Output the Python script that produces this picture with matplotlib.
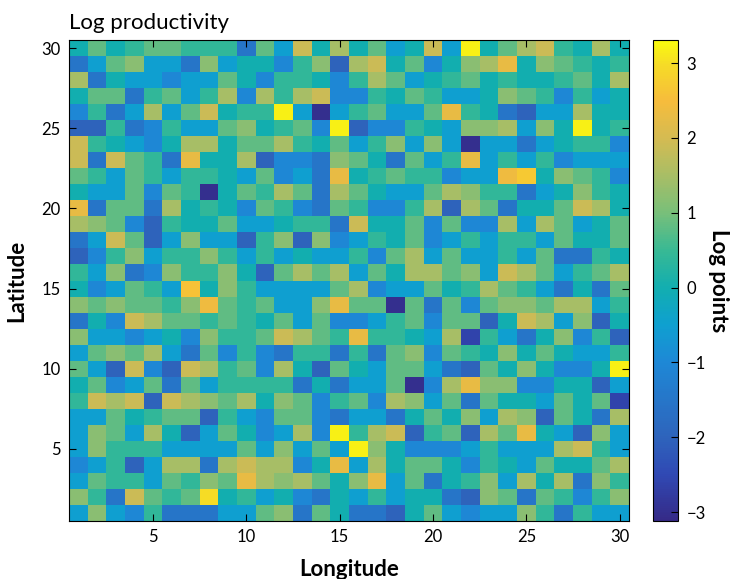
import numpy as np
import matplotlib
matplotlib.use("Agg")
import matplotlib.pyplot as plt
from matplotlib.colors import LinearSegmentedColormap

plt.rcParams['font.family'] = ['Lato', 'DejaVu Sans']

# grid coordinates
longitude = np.arange(1, 31)
latitude = np.arange(1, 31)

# log productivity per cell, rows from latitude 30 (top) down to latitude 1
logprod = [
    [0, .8, 0, .4, .8, .8, .4, .4, .4, -1.5, .8, -.5, 1.9, 0, 1.5, 0, .8, -.5, 0, 1.9, -.5, 3.2, 0, .8, 1.5, 1.9, .4, 0, 1.5, 0],
    [-1.5, -.5, .8, 1.2, -.5, -.5, -1.5, 1.2, -.5, 0, 0, -1, .4, 1.2, -2, 1.5, 1.9, 0, .8, -1, 0, 1.2, 1.5, 2.3, 0, 1.2, .8, .4, 0, .4],
    [1.5, -1.5, 0, -.5, -.5, -1, -.5, -.5, .8, 0, -1, .4, .4, 0, -1, .4, 1.5, .8, -.5, 0, .4, .8, 0, .4, 0, 0, .4, .8, 0, 1.5],
    [0, .8, .8, -1.5, .4, .8, -.5, .4, 1.5, -1, 1.5, .4, 1.5, 1.9, -1, -1, .4, 0, .8, .4, -.5, -.5, 0, 1.2, .8, .4, -1, .4, -.5, 0],
    [-1, .4, -1.5, -.5, 1.5, -.5, .8, 1.9, 0, .4, .4, 3.2, -.5, -3, -.5, .4, .8, -.5, -.5, .8, 2.3, .4, 0, -1.5, -2, -.5, -.5, 1.5, 0, 0],
    [-2, -2, .4, -1.5, -1, .4, -.5, -.5, .8, 1.2, 0, .4, .8, -1, 3.2, -2, -1, -1, .4, 0, -.5, 1.2, 1.2, 1.5, -.5, 1.2, 0, 3.2, 0, .4],
    [1.9, .4, 0, -.5, -1, 0, 1.5, 1.5, 0, .8, .8, 1.5, .4, 0, .8, -.5, .4, 1.2, -.5, 1.2, -.5, -3, -.5, -.5, -1.5, -.5, 0, .4, .4, -1],
    [1.9, -1.5, 1.9, .8, .4, -1.5, 2.3, 0, 0, 1.5, -2, -1, -1, -1.5, 1.2, .8, 0, -1.5, .8, -.5, .4, 2.3, -.5, .4, -.5, .4, -1, -.5, -.5, -.5],
    [.8, .4, -.5, .8, .4, -.5, .4, .4, 0, -.5, .8, -1, -.5, -1.5, 2.3, 0, .4, .8, .4, .4, -1, -.5, -.5, 2.4, 2.7, 0, 1.2, .8, .4, -1],
    [0, -.5, -.5, .8, -1, .8, .4, -3, 0, .8, .4, 1.5, .8, -1.5, 1.5, .8, 0, -.5, -.5, .8, 1.5, 1.2, .4, .4, -1.5, -.5, 0, 1.2, .4, 0],
    [2.3, -1.5, .8, .8, -1.5, 1.5, 0, .4, 0, -1, .8, .4, -1, -1.5, .8, .4, -1, -1, .4, 1.5, -2, 1.5, .8, -1.5, 0, 0, .8, 1.9, 1.5, 0],
    [1.5, 1.2, .8, -1, -2, .4, 0, 0, .8, -.5, -.5, 0, .4, .4, -1.5, 1.9, 0, 0, .8, -1, .8, -1, -1, 1.5, -.5, 1.5, .8, -.5, 0, .8],
    [-1.5, -.5, 1.9, .8, -2, -.5, 1.2, -.5, -.5, -2, .4, 1.2, -2, 1.2, -1, -.5, .4, 0, .8, -1, -.5, .4, -.5, .4, .4, -.5, .8, 0, 0, .8],
    [-2, -1, .4, 1.2, -.5, .4, .4, 1.2, .4, -.5, .4, -.5, 0, -.5, -.5, .4, -1, .8, 1.5, -.5, .8, -.5, -.5, .4, -.5, .8, -1.5, -1.5, .4, 0],
    [.4, -.5, 1.2, -1.5, -1, 1.2, .4, .4, 1.2, 0, -2, .8, 1.5, .8, 1.5, -.5, .8, 0, 1.5, 1.5, .8, 1.2, -.5, 1.9, 1.5, .8, -.5, .4, .8, 1.5],
    [0, -1, -.5, .8, .4, -.5, 2.6, 0, 1.2, .4, -.5, -.5, -.5, -.5, .8, 1.5, -1, -.5, -.5, .8, 0, .4, 1.5, .8, .4, -.5, -1.5, 0, -1.5, .8],
    [1.2, .8, 1.2, .8, .8, .4, 1.2, 2.4, .8, .4, .8, -.5, -.5, 1.2, 2.3, .8, .8, -3, .8, -1.5, .8, -1, .8, 1.2, 1.2, .8, 1.5, 1.5, -.5, .4],
    [-1.5, 0, -1, 1.9, 1.5, .8, .8, .4, .8, .4, 0, .8, -.5, .8, -1, -1, -.5, .4, .8, -1, .8, .8, -2, 0, 1.9, 1.5, -.5, 1.2, -2, 0],
    [1.2, -.5, -.5, -1, -.5, 0, -1, 1.2, .4, .4, .8, 1.9, 1.5, .8, .4, 2.3, .4, .4, 0, -.5, 1.5, -2.6, .4, -.5, -1.5, 0, 1.2, -1, .4, -2],
    [-.5, .8, 1.2, .8, 1.5, -.5, -1.5, .8, -1, .4, -1, -1.5, .4, .4, -1.5, .4, -1.5, .8, 1.2, -1, .8, .4, 0, 1.2, 0, .8, 0, -.5, -.5, .4],
    [.8, -.5, -2, 1.9, -1, -2, 1.9, 1.5, .4, .8, -1, 1.5, 0, -2, .8, 0, -.5, .8, .8, -.5, -1.5, -2, .8, 0, 1.2, 0, -1, -1, 0, 3.2],
    [0, .8, -1, -.5, .8, -1.5, .8, -.5, .4, .4, .4, .4, -1.5, 0, -1.5, -.5, -.5, .8, -3, -1, 1.5, 2.3, 1.2, 1.2, -1, -1, 0, 0, -2, -.5],
    [.4, 1.9, 1.5, 1.9, -2, 1.9, 1.5, 1.2, .8, 1.5, 0, 1.2, .8, -1, .4, .8, -1, 1.5, 1.2, -.5, .8, -1.5, .8, 0, 0, -.5, .8, 0, .8, -2.6],
    [-.5, -.5, .8, 0, .4, .8, .8, -2, .4, -.5, -1, .8, .8, -1, -1.5, -.5, -.5, -1.5, 0, .8, 0, 1.2, -.5, 1.5, 1.2, -2, .8, 0, -1.5, 1.5],
    [-.5, 1.2, .8, -.5, 1.5, 0, -2, -.5, .8, 0, -1, -.5, 1.5, -1, 3.2, .4, 1.5, 1.9, -2, .4, .8, -2, 1.5, .8, 2.3, 0, -.5, -2, 1.2, -.5],
    [-.5, 1.2, .4, .4, .4, -.5, -.5, -.5, -.5, .8, -.5, 1.2, -.5, .8, -.5, 3.2, 1.2, 0, -1, -1, -1, -.5, .4, -.5, -.5, -.5, 1.5, 1.9, .4, -.5],
    [-1, -.5, .4, -2, -.5, 1.5, 1.5, -1.5, 1.5, 1.9, 1.5, 1.5, -1, 0, 2.3, -.5, 1.5, 0, .8, .8, 0, -1, .4, 0, -.5, .8, 0, 0, .8, 1.5],
    [-.5, .8, .4, .4, -.5, .8, .4, 1.2, .8, 2.3, 1.5, 1.2, 1.5, .8, 0, 1.2, 2.3, -.5, .8, -1.5, 0, .4, 1.2, -.5, 1.5, 0, 1.5, -1.5, 1.2, .4],
    [1.2, .4, -1.5, 1.9, .8, .4, .8, 3.0, 0, .4, -.5, 0, -1, -1.5, 0, -.5, .4, -.5, 0, 0, -1.5, -2, 1.2, .8, -1.5, .8, .4, -1, .4, 1.2],
    [-.5, 1.2, -.5, -1, .4, -1.5, -1.5, -1.5, -.5, -.5, .8, 1.2, -1.5, .8, 0, -1.5, -1.5, -2, 0, .8, -.5, -1, -.5, -.5, 1.2, .4, -1.5, .4, -.5, -.5],
]

cbar_ticks = [-3, -2, -1, 0, 1, 2, 3]

# parula-like colormap sampled from the colorbar
parula_like = LinearSegmentedColormap.from_list('parula_like', [
    (0.000, '#352a87'),
    (0.096, '#3049b4'),
    (0.174, '#2e64bc'),
    (0.330, '#1e88d6'),
    (0.408, '#0fa0d0'),
    (0.485, '#12aeb0'),
    (0.563, '#38b994'),
    (0.641, '#78bf7a'),
    (0.719, '#a8be66'),
    (0.796, '#d4bb52'),
    (0.874, '#f6bc3c'),
    (0.952, '#f6dc26'),
    (1.000, '#f9fb0e'),
])

Z = np.array(logprod)[::-1]

fig = plt.figure(figsize=(7.34, 5.79), dpi=100)
ax = fig.add_axes([69/734, 58/579, 560/734, 481/579])
cax = fig.add_axes([653/734, 58/579, 25/734, 481/579])

im = ax.imshow(Z, cmap=parula_like, vmin=-3.12, vmax=3.31, origin='lower',
               extent=[longitude[0]-0.5, longitude[-1]+0.5, latitude[0]-0.5, latitude[-1]+0.5],
               aspect='auto', interpolation='nearest')

ax.set_xticks([5, 10, 15, 20, 25, 30])
ax.set_yticks([5, 10, 15, 20, 25, 30])
ax.tick_params(direction='in', top=True, right=True, labelsize=12, length=5, width=0.8, pad=6)
ax.set_xlabel('Longitude', fontsize=16, fontweight='bold', labelpad=10)
ax.set_ylabel('Latitude', fontsize=16, fontweight='bold', labelpad=10)
ax.set_title('Log productivity', loc='left', fontsize=16, pad=8)

cb = fig.colorbar(im, cax=cax, ticks=cbar_ticks)
cb.ax.tick_params(direction='in', labelsize=12, length=5, width=0.8, pad=6)
cb.set_label('Log points', fontsize=16, fontweight='bold', rotation=270, labelpad=17)

fig.savefig('out.png', dpi=100)
